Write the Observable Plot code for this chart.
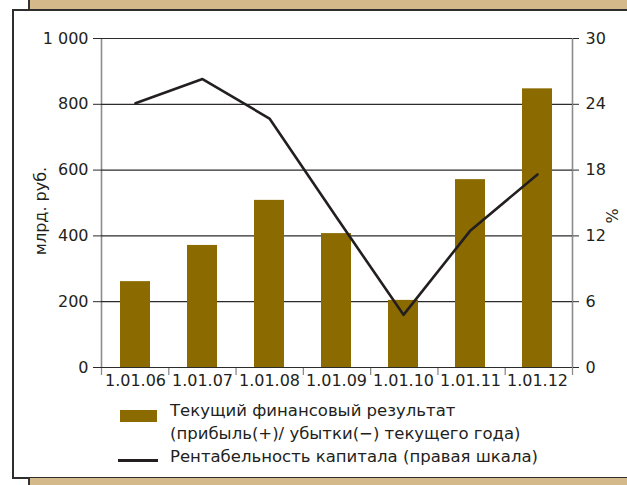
<!DOCTYPE html>
<html>
<head>
<meta charset="utf-8">
<script src="https://cdn.jsdelivr.net/npm/d3@7"></script>
<script src="https://cdn.jsdelivr.net/npm/@observablehq/plot@0.6"></script>
<style>
  body { margin: 0; width: 627px; height: 485px; overflow: hidden; position: relative; background: #fff;
         font-family: "DejaVu Sans", sans-serif; color: #231f20; }
  #top-strip, #bottom-strip { position: absolute; left: 28px; width: 640px; background: #d4b98a;
         border-left: 2px solid #333; box-sizing: border-box; }
  #top-strip { top: 0; height: 10px; }
  #bottom-strip { top: 478px; height: 10px; }
  #panel { position: absolute; left: 12px; top: 9px; width: 700px; height: 470px; background: #fff;
         border: 2px solid #2e2e2e; box-sizing: border-box; }
  #chart { position: absolute; left: 0; top: 0; width: 627px; height: 400px; }
  #chart svg { position: absolute; left: 0; top: 0; }
  #legend { position: absolute; left: 0; top: 0; font-size: 16.5px; }
  .lg-item { position: absolute; white-space: nowrap; }
  .sw-bar { position: absolute; left: 120px; top: 410px; width: 37px; height: 12px; background: #8b6a00; }
  .sw-line { position: absolute; left: 118px; top: 459px; width: 40px; height: 2.5px; background: #231f20; }
</style>
</head>
<body>
<div id="top-strip"></div>
<div id="panel"></div>
<div id="bottom-strip"></div>
<div id="chart"></div>
<div id="legend"></div>
<script>
// Reporting dates (1 January of each year)
const dates = ["1.01.06", "1.01.07", "1.01.08", "1.01.09", "1.01.10", "1.01.11", "1.01.12"];
// Current financial result, bn rubles (left scale)
const result = [261, 371, 508, 407, 204, 571, 847];
// Return on capital, % (right scale)
const roe = [24.1, 26.3, 22.7, 13.7, 4.8, 12.5, 17.6];
// Axis ticks
const leftTicks = [0, 200, 400, 600, 800, 1000];
const rightTicks = [0, 6, 12, 18, 24, 30];
// Axis titles and legend texts
const leftTitle = "млрд. руб.";
const rightTitle = "%";
const legendBar = ["Текущий финансовый результат", "(прибыль(+)/ убытки(−) текущего года)"];
const legendLine = "Рентабельность капитала (правая шкала)";

const rows = dates.map((date, i) => ({date, result: result[i], roe: roe[i]}));

const ink = "#231f20";
const barColor = "#8b6a00";
const axisGray = "#8c8c8c";
const fmtThousands = d => d3.format(",")(d).replace(/,/g, " ");

const frame = {
  width: 627, height: 400,
  marginLeft: 101, marginRight: 55, marginTop: 38, marginBottom: 33,
  style: {background: "transparent", fontFamily: "DejaVu Sans, sans-serif", fontSize: "16px", color: ink}
};

// Layer 1: side axis lines and ticks at the boundaries between dates
const edges = d3.range(dates.length + 1);
const layerEdges = Plot.plot({
  ...frame,
  x: {type: "linear", domain: [0, dates.length]},
  y: {domain: [0, 1000], axis: null},
  marks: [
    Plot.ruleX([0, dates.length], {stroke: axisGray, strokeWidth: 1.6}),
    Plot.axisX({ticks: edges, tickSize: 8, tickFormat: () => "", stroke: axisGray, strokeWidth: 1.3, label: null})
  ]
});

// Layer 2: gridlines, bars, left scale and date labels
const layerBars = Plot.plot({
  ...frame,
  x: {type: "band", domain: dates, paddingInner: 0.55, paddingOuter: 0.275},
  y: {domain: [0, 1000]},
  marks: [
    Plot.ruleY(leftTicks, {stroke: "#2b2b2b", strokeWidth: 1.2}),
    Plot.axisY({ticks: leftTicks, tickSize: 8, tickPadding: 5, tickFormat: fmtThousands,
                stroke: "#2b2b2b", label: null}),
    Plot.text([leftTitle], {frameAnchor: "left", textAnchor: "middle", rotate: -90, dx: -61, dy: 8,
                            fill: ink, fontSize: 16}),
    Plot.axisY({anchor: "right", ticks: leftTicks, tickSize: 6, tickFormat: () => "", stroke: "#2b2b2b", label: null}),
    Plot.axisX({tickSize: 0, tickPadding: 7, label: null}),
    Plot.barY(rows, {x: "date", y: "result", fill: barColor}),
    Plot.ruleY([0], {stroke: "#2b2b2b", strokeWidth: 1.2})
  ]
});

// Layer 3: return on capital line with its right scale
const layerLine = Plot.plot({
  ...frame,
  x: {type: "band", domain: dates, paddingInner: 0.55, paddingOuter: 0.275, axis: null},
  y: {domain: [0, 30]},
  marks: [
    Plot.axisY({anchor: "right", ticks: rightTicks, tickSize: 0, tickPadding: 13, label: null}),
    Plot.text([rightTitle], {frameAnchor: "right", textAnchor: "middle", rotate: -90, dx: 40, dy: 13,
                             fill: ink, fontSize: 16}),
    Plot.line(rows, {x: "date", y: "roe", stroke: ink, strokeWidth: 2.6})
  ]
});

const chart = document.getElementById("chart");
chart.append(layerEdges, layerBars, layerLine);

// Legend
const legend = document.getElementById("legend");
legend.innerHTML = `
  <div class="sw-bar"></div>
  <div class="lg-item" style="left:170px; top:401px">${legendBar[0]}</div>
  <div class="lg-item" style="left:170px; top:424px">${legendBar[1]}</div>
  <div class="sw-line"></div>
  <div class="lg-item" style="left:170px; top:447px">${legendLine}</div>`;
</script>
</body>
</html>
